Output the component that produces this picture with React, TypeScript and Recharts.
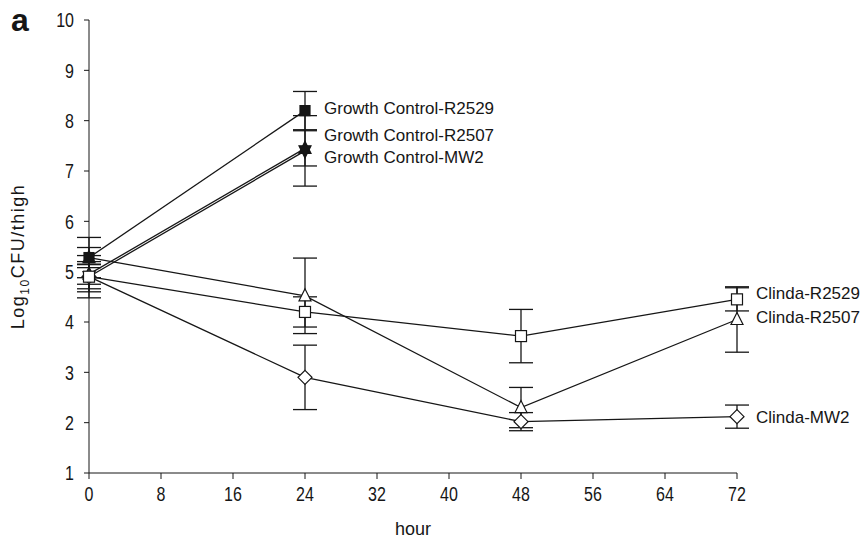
import { ErrorBar, Label, LabelList, Line, LineChart, XAxis, YAxis } from "recharts";

// sampling times (hours)
const hours = [0, 24, 48, 72];
const hourTicks = [0, 8, 16, 24, 32, 40, 48, 56, 64, 72];
const logTicks = [1, 2, 3, 4, 5, 6, 7, 8, 9, 10];

// log10 CFU/thigh, mean and error
const growthR2529 = [5.28, 8.2, null, null];
const growthR2529Err = [0.2, 0.38, null, null];
const growthR2507 = [4.95, 7.45, null, null];
const growthR2507Err = [0.2, 0.35, null, null];
const growthMW2 = [4.9, 7.4, null, null];
const growthMW2Err = [0.3, 0.7, null, null];
const clindaR2529 = [4.9, 4.2, 3.72, 4.45];
const clindaR2529Err = [0.42, 0.3, 0.53, 0.23];
const clindaR2507 = [5.28, 4.52, 2.3, 4.05];
const clindaR2507Err = [0.4, 0.75, 0.4, 0.65];
const clindaMW2 = [4.9, 2.9, 2.02, 2.12];
const clindaMW2Err = [0.24, 0.64, 0.18, 0.23];

const rows = hours.map((h, i) => ({
  hour: h,
  gR2529: growthR2529[i],
  gR2529Err: growthR2529Err[i],
  gR2507: growthR2507[i],
  gR2507Err: growthR2507Err[i],
  gMW2: growthMW2[i],
  gMW2Err: growthMW2Err[i],
  cR2529: clindaR2529[i],
  cR2529Err: clindaR2529Err[i],
  cR2507: clindaR2507[i],
  cR2507Err: clindaR2507Err[i],
  cMW2: clindaMW2[i],
  cMW2Err: clindaMW2Err[i],
}));

const INK = "#161616";
const textFont = "'Liberation Sans', Arial, sans-serif";

type Shape = "square" | "triUp" | "triDown" | "diamond";

const marker = (shape: Shape, filled: boolean) => (props: any) => {
  const { cx, cy, index, value } = props;
  if (value == null || !Number.isFinite(cx) || !Number.isFinite(cy)) {
    return <g key={`m-${index}`} />;
  }
  const fill = filled ? INK : "#fff";
  const common = { fill, stroke: INK, strokeWidth: 1.2 };
  if (shape === "square") {
    const s = filled ? 10 : 11;
    return <rect key={`m-${index}`} x={cx - s / 2} y={cy - s / 2} width={s} height={s} {...common} />;
  }
  if (shape === "triUp") {
    return <polygon key={`m-${index}`} points={`${cx},${cy - 7} ${cx - 6},${cy + 5} ${cx + 6},${cy + 5}`} {...common} />;
  }
  if (shape === "triDown") {
    return <polygon key={`m-${index}`} points={`${cx},${cy + 7} ${cx - 6},${cy - 5} ${cx + 6},${cy - 5}`} {...common} />;
  }
  return <polygon key={`m-${index}`} points={`${cx},${cy - 7} ${cx + 7},${cy} ${cx},${cy + 7} ${cx - 7},${cy}`} {...common} />;
};

const endLabel = (text: string, lastIndex: number, dy: number) => (props: any) => {
  const { x, y, index } = props;
  if (index !== lastIndex || !Number.isFinite(x) || !Number.isFinite(y)) return null;
  return (
    <text x={x + 19} y={y + dy + 6} fontSize={17} fontFamily={textFont} fill={INK}>
      {text}
    </text>
  );
};

// narrow tick digits, like the original figure
const NarrowTick = (props: any) => {
  const { x, y, payload, textAnchor, vertical } = props;
  return (
    <text
      transform={`translate(${x},${y}) scale(0.8,1)`}
      textAnchor={textAnchor}
      dy={vertical ? "0.36em" : "0.72em"}
      fontSize={20}
      fontFamily={textFont}
      fill={INK}
    >
      {payload.value}
    </text>
  );
};

// drawing order: squares end up on top where points coincide
const series = [
  { key: "gR2507", name: "Growth Control-R2507", shape: "triUp" as Shape, filled: true, last: 1, dy: -13 },
  { key: "gMW2", name: "Growth Control-MW2", shape: "triDown" as Shape, filled: true, last: 1, dy: 6 },
  { key: "cMW2", name: "Clinda-MW2", shape: "diamond" as Shape, filled: false, last: 3, dy: 0 },
  { key: "cR2507", name: "Clinda-R2507", shape: "triUp" as Shape, filled: false, last: 3, dy: -2 },
  { key: "cR2529", name: "Clinda-R2529", shape: "square" as Shape, filled: false, last: 3, dy: -6 },
  { key: "gR2529", name: "Growth Control-R2529", shape: "square" as Shape, filled: true, last: 1, dy: -3 },
];

const YTitle = (props: any) => {
  const vb = props.viewBox || { x: 0, y: 20, height: 453 };
  const cy = vb.y + vb.height / 2 + 10;
  return (
    <text
      transform={`translate(24,${cy}) rotate(-90)`}
      textAnchor="middle"
      fontSize={18}
      letterSpacing={1.5}
      fontFamily={textFont}
      fill={INK}
    >
      Log
      <tspan fontSize={12} dy={5}>10</tspan>
      <tspan dy={-5}>CFU/thigh</tspan>
    </text>
  );
};

export default function App() {
  return (
    <div style={{ position: "absolute", left: 0, top: 0, width: 867, height: 545, background: "#fff" }}>
      <div
        style={{
          position: "absolute",
          left: 11,
          top: 2,
          fontFamily: textFont,
          fontWeight: 700,
          fontSize: 32,
          color: INK,
        }}
      >
        a
      </div>
      <LineChart width={867} height={545} data={rows} margin={{ top: 20, right: 130, left: 0, bottom: 0 }}>
        <XAxis
          dataKey="hour"
          type="number"
          domain={[0, 72]}
          ticks={hourTicks}
          height={72}
          stroke={INK}
          tickSize={6}
          tickMargin={8}
          tick={<NarrowTick />}
        >
          <Label
            value="hour"
            position="insideBottom"
            offset={10}
            style={{ fill: INK, fontSize: 18, fontFamily: textFont }}
          />
        </XAxis>
        <YAxis
          type="number"
          domain={[1, 10]}
          ticks={logTicks}
          width={89}
          stroke={INK}
          tickSize={5}
          tickMargin={10}
          tick={<NarrowTick vertical />}
          label={<YTitle />}
        />
        {series.map((s) => (
          <Line
            key={s.key}
            dataKey={s.key}
            name={s.name}
            stroke={INK}
            strokeWidth={1.3}
            isAnimationActive={false}
            dot={marker(s.shape, s.filled)}
            activeDot={false}
          >
            <ErrorBar dataKey={`${s.key}Err`} width={12} stroke={INK} strokeWidth={1.3} direction="y" />
            <LabelList dataKey={s.key} content={endLabel(s.name, s.last, s.dy)} />
          </Line>
        ))}
      </LineChart>
    </div>
  );
}
